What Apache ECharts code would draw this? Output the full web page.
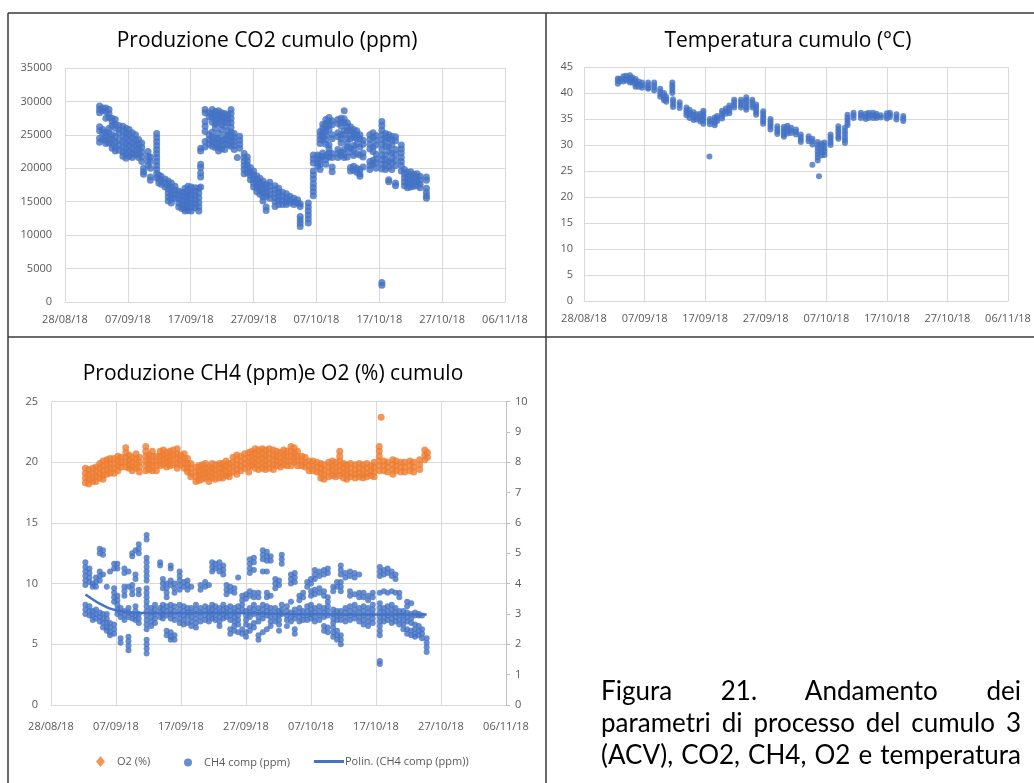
<!DOCTYPE html>
<html>
<head>
<meta charset="utf-8">
<script src="https://cdn.jsdelivr.net/npm/echarts@6/dist/echarts.min.js"></script>
<style>
  html, body { margin: 0; padding: 0; background: #ffffff; }
  #chart { position: absolute; left: 0; top: 0; width: 1034px; height: 783px; }
  #caption { position: absolute; left: 601px; top: 674px; width: 420px;
    font-family: 'Lato', 'Open Sans', sans-serif; font-size: 26px; line-height: 32px; color: #000; }
  #caption div { text-align: justify; text-align-last: justify; white-space: nowrap; }
</style>
</head>
<body>
<div id="chart"></div>
<div id="caption">
  <div>Figura 21. Andamento dei</div>
  <div>parametri di processo del cumulo 3</div>
  <div>(ACV), CO2, CH4, O2 e temperatura</div>
</div>
<script>
// Date tick labels of the shared time axis (every 10 days from 28/08/18)
const tickLabels = ['28/08/18', '07/09/18', '17/09/18', '27/09/18', '07/10/18', '17/10/18', '27/10/18', '06/11/18'];

// CO2 in the pile (ppm): [reading time 'DD/MM HH', values]
const co2Readings = [
  ['02/09 12', [29300, 28800, 28300, 26200, 25600, 24500, 23900]],
  ['03/09 00', [29000, 28600, 25800, 25200, 24300]],
  ['03/09 12', [29000, 28500, 27500, 25400, 24800, 24200, 23700]],
  ['04/09 00', [28800, 28200, 27600, 26000, 25300, 24500, 23800]],
  ['04/09 12', [27500, 27000, 26400, 25000, 24300, 23600, 23000]],
  ['05/09 00', [27300, 26600, 26000, 24800, 24000, 23200, 22600]],
  ['05/09 14', [26400, 25800, 25200, 24200, 23400, 22700]],
  ['06/09 05', [26300, 25600, 24800, 24000, 23200, 22400, 21800]],
  ['06/09 17', [26000, 25300, 24600, 23800, 23000, 22200, 21500]],
  ['07/09 05', [25800, 25000, 24200, 23400, 22600, 21800]],
  ['07/09 17', [25300, 24500, 23700, 22900, 22200, 21600]],
  ['08/09 05', [25000, 24300, 23500, 22700, 22000]],
  ['08/09 17', [24300, 23600, 22900, 22200, 21600]],
  ['09/09 05', [23800, 23100, 22400, 21700, 21000]],
  ['09/09 12', [20000, 19500, 19100]],
  ['10/09 05', [22500, 21800, 21100, 20400]],
  ['10/09 14', [21700, 21000, 20000, 18700, 18200]],
  ['11/09 14', [25200, 24600, 24000, 23400, 22800, 22200, 21600, 21000, 20400, 19800, 19200, 18600]],
  ['11/09 22', [19000, 18400, 17800]],
  ['12/09 07', [18800, 18200, 17600]],
  ['12/09 22', [18400, 17800, 17200]],
  ['13/09 10', [18100, 17500, 16900, 16300, 15700, 15100]],
  ['13/09 22', [17800, 17200, 16600, 16000, 15400, 14800]],
  ['14/09 12', [17300, 16700, 16100, 15500]],
  ['15/09 02', [16600, 16000, 15400, 14800, 14200]],
  ['15/09 14', [16400, 15800, 15200, 14600, 14000]],
  ['16/09 02', [17000, 16400, 15800, 15200, 14600, 14000, 13600]],
  ['16/09 14', [17300, 16700, 16100, 15500, 14900, 14300, 13700]],
  ['17/09 02', [17200, 16600, 16000, 15400, 14800, 14200, 13600]],
  ['17/09 17', [17100, 16500, 15900, 15300, 14700, 14100]],
  ['18/09 07', [17000, 16300, 15600, 14900, 14200, 13600]],
  ['18/09 14', [23000, 22600, 20600, 20100, 19300, 18700, 17200]],
  ['19/09 07', [28800, 28300, 27000, 26300, 25500, 24000, 23200]],
  ['19/09 22', [28300, 27700, 25000, 24300, 23600]],
  ['20/09 10', [28800, 28200, 27600, 26900, 25400, 24700, 24000, 23300]],
  ['20/09 22', [28500, 27900, 27200, 26600, 26000, 24500, 23800, 23100]],
  ['21/09 10', [28600, 28000, 27400, 26800, 25200, 24500, 23800, 23100, 22600]],
  ['21/09 22', [28300, 27700, 27100, 26500, 25800, 24200, 23500, 22900]],
  ['22/09 10', [28200, 27600, 27000, 26300, 25000, 24300, 23600, 22800]],
  ['22/09 22', [28000, 27400, 26800, 25600, 24900, 24200, 23500]],
  ['23/09 10', [28800, 28200, 27500, 26800, 26100, 25400, 24700, 24000, 23300]],
  ['23/09 22', [25200, 24600, 24000, 23400, 22800]],
  ['24/09 10', [21600]],
  ['24/09 19', [24800, 24200, 23600, 23000]],
  ['25/09 12', [22200, 21600, 21000, 20400, 19800, 19200]],
  ['26/09 00', [21700, 21100, 20500, 19900, 19300]],
  ['26/09 12', [20100, 19500, 18900, 18300]],
  ['27/09 00', [19600, 19000, 18400, 17800, 17200]],
  ['27/09 12', [18900, 18300, 17700, 17100, 16500]],
  ['28/09 00', [18500, 17900, 17300, 16700, 16100]],
  ['28/09 12', [18100, 17500, 16900, 16300, 15700, 15100]],
  ['29/09 00', [17600, 17000, 16400, 15800, 14200, 13700]],
  ['29/09 14', [17900, 17300, 16700, 16100, 15500]],
  ['30/09 10', [17400, 16800, 16200, 15600, 15000, 14300]],
  ['01/10 00', [17000, 16400, 15800, 15200, 14600]],
  ['01/10 14', [16400, 15800, 15200, 14600]],
  ['02/10 05', [16200, 15600, 15000, 14600]],
  ['02/10 19', [15800, 15300, 14800]],
  ['03/10 10', [15500, 15000, 14600]],
  ['04/10 00', [15300, 14800]],
  ['04/10 10', [14700, 14300, 12800, 12300, 11800, 11300]],
  ['05/10 17', [14800, 14200, 13600, 13000, 12400, 11800]],
  ['06/10 12', [22000, 21400, 20800, 19600, 19000, 18400, 17700, 17100, 16500, 15900]],
  ['07/10 05', [22000, 21400, 20800, 20300]],
  ['07/10 14', [25500, 24900, 24300, 23700, 21800, 21200, 20600, 19800]],
  ['08/10 00', [26600, 26000, 25400, 24800, 24200, 22300, 21700]],
  ['08/10 12', [27300, 26700, 26100, 25500, 24900, 24300, 23600, 21900, 21300, 20600]],
  ['09/10 00', [27600, 27000, 26400, 25800, 23500, 22900, 22300, 21700]],
  ['09/10 12', [27100, 26500, 25000, 24400, 22200, 21600, 20200, 19500]],
  ['10/10 10', [27300, 26700, 25300, 24700, 22800, 22200, 21600]],
  ['10/10 22', [27500, 26900, 26300, 25000, 24400, 23800, 22400, 21900]],
  ['11/10 10', [28600, 27400, 26800, 25600, 25000, 22800, 22200, 21600]],
  ['11/10 22', [26800, 26200, 25600, 24400, 23800, 23200, 21700]],
  ['12/10 10', [26200, 25600, 25000, 24400, 23000, 22400, 20100, 19600]],
  ['12/10 22', [25800, 25200, 24600, 23400, 22800, 21900, 20300, 19700]],
  ['13/10 10', [25600, 25000, 24400, 23600, 22200, 20000, 19400]],
  ['13/10 22', [25000, 24400, 23200, 22000, 19800, 19200, 18800]],
  ['14/10 10', [24200, 23600, 22300, 21700, 20200]],
  ['15/10 12', [25000, 24300, 23600, 22900, 21000, 20400, 19800]],
  ['16/10 00', [25300, 24600, 23200, 22500, 21200, 20600]],
  ['16/10 12', [24900, 24200, 23500, 22100, 21400, 20800, 20000]],
  ['17/10 10', [27000, 26400, 25700, 25000, 24300, 23600, 22800, 22000, 21300, 20600, 19900, 2900, 2500]],
  ['18/10 00', [25200, 24600, 24000, 23300, 22000, 21300, 20600, 19800]],
  ['18/10 12', [25000, 24400, 23200, 22500, 21000, 20200, 18300, 18000]],
  ['19/10 00', [24800, 24200, 23500, 22300, 21500, 20800, 19800]],
  ['19/10 14', [24700, 24100, 22800, 22100, 21200, 20400, 17800, 17400]],
  ['20/10 12', [23500, 22900, 22300, 21600, 21000, 20400, 19600]],
  ['21/10 00', [19800, 19200, 18600, 18000, 17400]],
  ['21/10 12', [19400, 18800, 18200, 17600, 17100]],
  ['22/10 00', [19500, 18900, 18300, 17700, 17200]],
  ['22/10 12', [19100, 18500, 17900, 17300]],
  ['23/10 00', [19200, 18600, 18000, 17400]],
  ['23/10 12', [18800, 18200, 17600, 17100]],
  ['24/10 12', [18700, 18200, 17000, 16400, 15900, 15500]]
];

// Pile temperature (°C)
const tempReadings = [
  ['02/09 14', [42.8, 42.3, 41.8]],
  ['02/09 22', [42.7, 42.2]],
  ['03/09 12', [43.2, 42.7, 42.2]],
  ['04/09 00', [43.3, 42.8, 42.4]],
  ['04/09 14', [43.4, 42.9, 42.4, 42.0]],
  ['05/09 00', [43.0, 42.5, 42.0]],
  ['05/09 12', [42.7, 42.2, 41.7, 41.2]],
  ['06/09 00', [42.2, 41.7, 41.2]],
  ['06/09 14', [42.0, 41.5, 41.0]],
  ['07/09 14', [42.0, 41.5, 41.0, 40.8]],
  ['08/09 14', [42.0, 41.5, 41.0, 40.5]],
  ['09/09 14', [40.8, 40.3, 39.8, 39.3]],
  ['10/09 05', [40.0, 39.5, 39.0, 38.6]],
  ['10/09 14', [39.3, 38.8, 38.3]],
  ['11/09 14', [42.0, 41.5, 41.0, 40.5, 40.0]],
  ['11/09 17', [38.8, 38.3, 37.8, 37.3]],
  ['12/09 19', [38.2, 37.7, 37.1]],
  ['13/09 22', [37.2, 36.7, 36.2, 35.7]],
  ['14/09 10', [36.8, 36.3, 35.8, 35.2]],
  ['15/09 02', [36.3, 35.8, 35.3, 34.8]],
  ['15/09 14', [35.9, 35.4, 34.9]],
  ['16/09 05', [36.0, 35.5, 35.0, 34.5]],
  ['16/09 17', [36.6, 36.1, 35.6, 35.1, 34.6, 34.1]],
  ['17/09 17', [27.8]],
  ['17/09 19', [35.0, 34.5, 34.0]],
  ['18/09 14', [35.3, 34.8, 34.3, 33.8]],
  ['19/09 00', [35.6, 35.1, 34.6]],
  ['19/09 19', [36.6, 36.1, 35.6, 35.1]],
  ['20/09 10', [37.0, 36.5, 36.0]],
  ['21/09 00', [37.6, 37.1, 36.6, 36.1]],
  ['21/09 19', [38.7, 38.2, 37.7, 37.2]],
  ['22/09 22', [38.7, 38.2, 37.7, 37.2]],
  ['23/09 19', [39.2, 38.7, 38.2, 37.7, 37.2, 36.8]],
  ['24/09 19', [38.7, 38.2, 37.7, 37.2]],
  ['25/09 10', [37.8, 37.3, 36.8, 36.3, 35.8]],
  ['26/09 14', [36.5, 36.0, 35.5, 35.0, 34.5, 34.1]],
  ['27/09 19', [35.0, 34.5, 34.0, 33.5, 33.0]],
  ['28/09 22', [33.6, 33.1, 32.6, 32.1]],
  ['30/09 00', [33.5, 33.0, 32.5, 32.0, 31.6]],
  ['30/09 14', [33.7, 33.2, 32.7, 32.2]],
  ['01/10 05', [33.3, 32.8, 32.3]],
  ['02/10 00', [33.0, 32.5, 32.0]],
  ['02/10 19', [32.0, 31.5, 31.0, 30.6]],
  ['04/10 02', [31.7, 31.2, 30.7]],
  ['04/10 17', [31.2, 30.7, 30.1, 26.2]],
  ['05/10 14', [30.6, 30.0, 29.4, 28.8, 28.2, 27.6, 27.0]],
  ['05/10 19', [24.0]],
  ['06/10 05', [30.3, 29.8, 29.2, 28.6, 28.0]],
  ['06/10 17', [30.5, 29.9, 29.3, 28.7, 28.1]],
  ['07/10 17', [32.0, 31.5, 31.0, 30.5, 30.0]],
  ['09/10 00', [33.6, 33.1, 32.6, 32.1, 31.6, 31.2]],
  ['10/10 02', [33.3, 32.7, 32.1, 31.5, 30.9, 30.4]],
  ['10/10 12', [35.8, 35.3, 34.8, 34.3, 33.8]],
  ['11/10 12', [36.2, 35.7, 35.2]],
  ['12/10 17', [36.2, 35.7, 35.2]],
  ['13/10 12', [36.0, 35.5, 35.0]],
  ['14/10 00', [36.2, 35.7, 35.2]],
  ['14/10 17', [36.2, 35.7, 35.2]],
  ['15/10 07', [36.0, 35.6, 35.2]],
  ['16/10 00', [35.7, 35.3]],
  ['17/10 00', [36.1, 35.6, 35.1]],
  ['17/10 12', [36.2, 35.8, 35.4]],
  ['18/10 14', [35.9, 35.4, 34.9]],
  ['19/10 17', [35.6, 35.1, 34.6]]
];

// Oxygen (%), left axis
const o2Readings = [
  ['02/09 07', [19.5, 19.1, 18.7, 18.3]],
  ['02/09 19', [19.4, 19.0, 18.6, 18.2]],
  ['03/09 10', [19.5, 19.1, 18.7, 18.4]],
  ['03/09 22', [19.6, 19.2, 18.8, 18.4]],
  ['04/09 12', [19.9, 19.5, 19.1, 18.7]],
  ['05/09 00', [20.1, 19.7, 19.3, 18.9, 18.6]],
  ['05/09 14', [20.2, 19.8, 19.4, 19.0]],
  ['06/09 02', [20.3, 19.9, 19.5, 19.1]],
  ['06/09 17', [20.3, 19.9, 19.5, 19.1]],
  ['07/09 07', [20.5, 20.1, 19.7, 19.3]],
  ['07/09 19', [20.4, 20.0, 19.6]],
  ['08/09 12', [21.2, 20.8, 20.4, 20.0, 19.6]],
  ['09/09 00', [20.6, 20.2, 19.8, 19.5]],
  ['09/09 12', [20.4, 20.0, 19.6, 19.3]],
  ['10/09 02', [20.7, 20.3, 19.9, 19.5]],
  ['10/09 14', [20.4, 20.0, 19.6, 19.2]],
  ['11/09 14', [21.3, 20.9, 20.5, 20.1, 19.7, 19.3]],
  ['12/09 02', [20.6, 20.2, 19.8, 19.4]],
  ['12/09 14', [20.9, 20.5, 20.1, 19.7, 19.3]],
  ['13/09 05', [20.5, 20.1, 19.7, 19.3]],
  ['13/09 19', [20.9, 20.5, 20.1, 19.7]],
  ['14/09 07', [21.0, 20.6, 20.2, 19.8]],
  ['14/09 19', [20.8, 20.4, 20.0, 19.6]],
  ['15/09 07', [20.9, 20.5, 20.1, 19.7]],
  ['15/09 19', [21.0, 20.6, 20.2, 19.8]],
  ['16/09 10', [21.1, 20.7, 20.3, 19.9, 19.5]],
  ['16/09 22', [20.6, 20.2, 19.8]],
  ['17/09 12', [20.7, 20.3, 19.9, 19.5]],
  ['18/09 00', [20.3, 19.9, 19.5, 19.2]],
  ['18/09 12', [19.9, 19.5, 19.1, 18.8]],
  ['19/09 07', [19.6, 19.2, 18.8, 18.4]],
  ['19/09 19', [19.7, 19.3, 18.9, 18.5]],
  ['20/09 07', [19.8, 19.4, 19.0, 18.6]],
  ['20/09 19', [19.9, 19.5, 19.1, 18.7]],
  ['21/09 07', [19.6, 19.2, 18.8, 18.4]],
  ['21/09 19', [19.9, 19.5, 19.1, 18.7]],
  ['22/09 07', [19.8, 19.4, 19.0, 18.6]],
  ['22/09 22', [19.9, 19.5, 19.1, 18.7]],
  ['23/09 10', [19.9, 19.5, 19.1, 18.7]],
  ['23/09 22', [20.1, 19.7, 19.3, 18.9]],
  ['24/09 10', [19.9, 19.5, 19.1, 18.8]],
  ['25/09 00', [20.4, 20.0, 19.6, 19.2]],
  ['25/09 14', [20.6, 20.2, 19.8, 19.4, 19.0]],
  ['26/09 05', [20.5, 20.1, 19.7, 19.3]],
  ['26/09 19', [20.7, 20.3, 19.9, 19.5]],
  ['27/09 10', [20.8, 20.4, 20.0, 19.6, 19.2]],
  ['27/09 22', [20.9, 20.5, 20.1, 19.7]],
  ['28/09 10', [21.1, 20.7, 20.3, 19.9, 19.5]],
  ['28/09 22', [21.0, 20.6, 20.2, 19.8, 19.4]],
  ['29/09 12', [21.1, 20.7, 20.3, 19.9, 19.5]],
  ['30/09 00', [21.0, 20.6, 20.2, 19.8, 19.4]],
  ['30/09 14', [21.1, 20.7, 20.3, 19.9, 19.5]],
  ['01/10 05', [21.0, 20.6, 20.2, 19.8, 19.4]],
  ['01/10 17', [20.9, 20.5, 20.1, 19.7]],
  ['02/10 07', [20.8, 20.4, 20.0, 19.6]],
  ['02/10 19', [21.0, 20.6, 20.2, 19.8]],
  ['03/10 07', [20.9, 20.5, 20.1, 19.7]],
  ['03/10 22', [21.3, 20.9, 20.5, 20.1, 19.7]],
  ['04/10 10', [21.2, 20.8, 20.4, 20.0]],
  ['04/10 22', [20.9, 20.5, 20.1, 19.7]],
  ['05/10 14', [20.5, 20.1, 19.7]],
  ['06/10 02', [20.4, 20.0, 19.6]],
  ['06/10 17', [20.1, 19.7, 19.3]],
  ['07/10 07', [20.1, 19.7, 19.3]],
  ['07/10 22', [20.0, 19.6, 19.2]],
  ['08/10 12', [19.9, 19.5, 19.1, 18.7]],
  ['09/10 00', [19.8, 19.4, 19.0, 18.6]],
  ['09/10 17', [20.0, 19.6, 19.2, 18.8]],
  ['10/10 07', [20.1, 19.7, 19.3, 18.9]],
  ['10/10 19', [20.0, 19.6, 19.2, 18.8]],
  ['11/10 10', [20.9, 20.5, 20.1, 19.7, 19.3, 18.9]],
  ['12/10 00', [19.9, 19.5, 19.1, 18.7]],
  ['12/10 12', [19.8, 19.4, 19.0, 18.6]],
  ['13/10 02', [19.9, 19.5, 19.1, 18.8]],
  ['13/10 19', [19.8, 19.4, 19.0, 18.7]],
  ['14/10 10', [19.9, 19.5, 19.1, 18.8]],
  ['15/10 00', [19.8, 19.4, 19.0, 18.7]],
  ['15/10 14', [19.9, 19.5, 19.1, 18.8]],
  ['16/10 05', [19.7, 19.3, 18.9]],
  ['16/10 17', [20.0, 19.6, 19.2, 18.8]],
  ['17/10 12', [21.3, 20.9, 20.5, 20.1, 19.7, 19.3]],
  ['17/10 19', [23.7]],
  ['18/10 05', [20.1, 19.7, 19.3]],
  ['18/10 19', [20.0, 19.6, 19.2]],
  ['19/10 14', [20.2, 19.8, 19.4, 19.0]],
  ['20/10 02', [20.1, 19.7, 19.3]],
  ['20/10 19', [20.0, 19.6, 19.2]],
  ['21/10 10', [20.0, 19.6, 19.2]],
  ['22/10 05', [20.1, 19.7, 19.3]],
  ['22/10 19', [20.0, 19.6, 19.2]],
  ['23/10 17', [20.2, 19.8, 19.4]],
  ['24/10 12', [21.0, 20.6, 20.2]],
  ['24/10 22', [20.8, 20.4]]
];

// Methane (ppm), right axis
const ch4Readings = [
  ['02/09 07', [4.7, 4.55, 4.4, 4.25, 4.1, 3.95, 3.3, 3.15, 3.0]],
  ['02/09 22', [4.5, 4.35, 4.2, 4.05, 3.25, 3.1, 2.95]],
  ['03/09 10', [4.0, 3.9, 3.1, 2.95, 2.8]],
  ['03/09 22', [4.2, 4.05, 3.9, 3.15, 3.0, 2.85]],
  ['04/09 12', [5.15, 5.0, 4.4, 4.25, 4.1, 3.05, 2.9, 2.75]],
  ['05/09 00', [5.1, 4.95, 4.3, 3.0, 2.85, 2.7, 2.55]],
  ['05/09 14', [3.9, 3.0, 2.85, 2.7, 2.55, 2.45]],
  ['06/09 02', [4.4, 2.7, 2.55, 2.4, 2.3]],
  ['06/09 17', [4.65, 4.5, 3.85, 3.7, 3.55, 3.4, 2.65, 2.5, 2.35]],
  ['07/09 05', [4.65, 4.5, 3.6, 3.45, 3.3, 3.15, 3.0]],
  ['07/09 17', [3.2, 3.05, 2.9, 2.2, 2.05]],
  ['08/09 07', [4.5, 4.35, 3.9, 3.75, 3.6, 3.1, 2.95, 2.8]],
  ['08/09 22', [4.4, 3.9, 3.2, 3.05, 2.9, 2.25, 2.1, 1.95, 1.8]],
  ['09/09 12', [5.0, 4.9, 3.95, 3.8, 3.65, 3.0, 2.85]],
  ['10/09 00', [5.1, 4.3, 4.15, 3.25, 3.1, 2.95, 2.8]],
  ['10/09 12', [5.3, 5.15, 5.0, 3.8, 3.65, 3.0, 2.85, 2.7]],
  ['11/09 17', [5.6, 5.45, 4.85, 4.7, 4.55, 4.4, 4.25, 4.1, 3.85, 3.7, 3.55, 3.4, 3.25, 3.1, 2.95, 2.8, 2.65, 2.5, 2.15, 2.0, 1.85, 1.7]],
  ['12/09 10', [3.2, 3.05, 2.9, 2.75, 2.6]],
  ['13/09 00', [3.3, 3.15, 3.0, 2.85, 2.7]],
  ['13/09 19', [4.7, 4.6, 3.2, 3.05, 2.9]],
  ['14/09 05', [4.15, 4.0, 3.85, 3.3, 3.15, 3.0, 2.85]],
  ['14/09 19', [4.0, 3.85, 3.7, 3.55, 3.25, 3.1, 2.95, 2.45, 2.3]],
  ['15/09 10', [4.6, 4.5, 4.1, 3.95, 3.3, 3.15, 3.0, 2.85, 2.4, 2.25, 2.15]],
  ['16/09 00', [4.0, 3.85, 3.7, 3.25, 3.1, 2.95, 2.8, 2.3, 2.15]],
  ['16/09 19', [4.4, 4.25, 4.1, 3.95, 3.8, 3.3, 3.15, 3.0, 2.85, 2.7]],
  ['17/09 10', [4.05, 3.9, 3.25, 3.1, 2.95, 2.8, 2.65]],
  ['18/09 00', [4.1, 3.95, 3.8, 3.2, 3.05, 2.9, 2.7]],
  ['18/09 14', [3.9, 3.2, 3.05, 2.9, 2.75, 2.6]],
  ['19/09 07', [3.3, 3.15, 3.0, 2.85, 2.7, 2.55]],
  ['20/09 00', [3.95, 3.8, 3.2, 3.05, 2.9, 2.75]],
  ['20/09 17', [4.05, 3.9, 3.25, 3.1, 2.95, 2.8]],
  ['21/09 07', [3.95, 3.2, 3.05, 2.9, 2.75]],
  ['21/09 19', [4.7, 4.55, 4.4, 3.3, 3.15, 3.0, 2.85]],
  ['22/09 07', [4.65, 4.5, 3.25, 3.1, 2.95, 2.8]],
  ['22/09 22', [4.7, 4.55, 4.4, 3.2, 3.05, 2.9, 2.75, 2.6]],
  ['23/09 12', [4.6, 4.45, 4.3, 3.3, 3.15, 3.0, 2.85]],
  ['24/09 00', [3.95, 3.8, 3.65, 3.2, 3.05, 2.9]],
  ['24/09 14', [3.9, 3.75, 3.25, 3.1, 2.95, 2.8, 2.5, 2.35]],
  ['25/09 05', [3.85, 3.7, 3.2, 3.05, 2.9, 2.75, 2.6, 2.45]],
  ['25/09 19', [4.2, 3.25, 3.1, 2.95, 2.8, 2.65, 2.4]],
  ['26/09 10', [3.6, 3.45, 3.3, 3.15, 2.5, 2.35]],
  ['27/09 00', [3.65, 3.5, 3.1, 2.95, 2.8, 2.65, 2.4, 2.25]],
  ['27/09 14', [4.8, 4.65, 4.5, 4.35, 3.75, 3.6, 3.2, 3.05, 2.9, 2.6, 2.45]],
  ['28/09 05', [4.85, 4.7, 4.45, 3.7, 3.55, 3.3, 3.15, 3.0, 2.7, 2.55]],
  ['28/09 22', [3.7, 3.55, 3.2, 3.05, 2.9, 2.75, 2.3, 2.15]],
  ['29/09 14', [5.1, 4.95, 4.8, 4.4, 3.3, 3.15, 3.0, 2.85, 2.4]],
  ['30/09 05', [5.05, 4.9, 4.75, 4.4, 3.7, 3.55, 3.25, 3.1, 2.95, 2.5]],
  ['30/09 19', [4.9, 4.75, 3.6, 3.2, 3.05, 2.9, 2.75, 2.6]],
  ['01/10 12', [4.15, 4.0, 3.85, 3.2, 3.05, 2.9, 2.75]],
  ['02/10 02', [4.1, 3.95, 3.1, 2.95, 2.8, 2.65, 2.45]],
  ['02/10 12', [4.95, 4.8, 4.65, 3.3, 3.15, 3.0]],
  ['03/10 07', [3.25, 3.1, 2.95, 2.8, 2.6]],
  ['03/10 22', [4.3, 4.15, 4.0, 3.4, 3.05, 2.9, 2.75]],
  ['04/10 12', [4.35, 4.2, 4.05, 3.15, 3.0, 2.85, 2.5, 2.35]],
  ['05/10 05', [3.6, 3.45, 3.2, 3.05, 2.9, 2.75]],
  ['05/10 19', [3.7, 3.55, 3.1, 2.95, 2.8]],
  ['06/10 10', [4.05, 3.9, 3.25, 3.1, 2.95, 2.8]],
  ['07/10 00', [4.15, 4.0, 3.75, 3.6, 3.3, 3.15, 3.0, 2.85]],
  ['07/10 14', [4.45, 4.3, 4.15, 3.8, 3.65, 3.2, 3.05, 2.9, 2.75]],
  ['08/10 07', [4.4, 4.25, 3.85, 3.7, 3.25, 3.1, 2.95, 2.8]],
  ['09/10 00', [4.45, 4.3, 3.75, 3.6, 3.2, 3.05, 2.9, 2.6, 2.45]],
  ['09/10 14', [4.5, 4.35, 3.55, 3.4, 3.25, 3.1, 2.95, 2.55, 2.4]],
  ['10/10 10', [3.9, 3.75, 3.15, 3.0, 2.85, 2.7, 2.55, 2.4, 2.25]],
  ['11/10 00', [4.05, 3.9, 3.1, 2.95, 2.8, 2.45, 2.3, 2.15]],
  ['11/10 14', [4.6, 4.45, 4.3, 4.05, 3.9, 3.75, 3.1, 2.95, 2.8, 2.3, 2.15, 2.0]],
  ['12/10 07', [4.35, 4.2, 3.2, 3.05, 2.9, 2.75]],
  ['13/10 00', [4.4, 4.25, 3.75, 3.6, 3.25, 3.1, 2.95, 2.8]],
  ['13/10 17', [4.35, 4.2, 3.65, 3.3, 3.15, 3.0, 2.85]],
  ['14/10 10', [4.3, 3.7, 3.55, 3.2, 3.05, 2.9, 2.75]],
  ['15/10 02', [3.7, 3.55, 3.25, 3.1, 2.95, 2.8, 2.65]],
  ['15/10 19', [3.6, 3.45, 3.2, 3.05, 2.9, 2.75, 2.6]],
  ['16/10 12', [3.7, 3.55, 3.3, 3.15, 3.0, 2.85, 2.7]],
  ['17/10 14', [4.55, 4.4, 4.25, 3.7, 3.35, 3.2, 3.05, 2.9, 2.75, 2.6, 2.45, 2.3, 1.45, 1.35]],
  ['18/10 05', [4.45, 4.3, 3.75, 3.2, 3.05, 2.9, 2.75]],
  ['18/10 19', [4.5, 4.35, 3.7, 3.25, 3.1, 2.95, 2.8]],
  ['19/10 10', [4.4, 4.25, 3.75, 3.3, 3.15, 3.0, 2.85, 2.7]],
  ['20/10 00', [4.3, 4.15, 3.7, 3.2, 3.05, 2.9, 2.75]],
  ['20/10 14', [3.7, 3.55, 3.1, 2.95, 2.8, 2.65]],
  ['21/10 05', [3.1, 2.95, 2.8, 2.65, 2.5]],
  ['21/10 19', [3.4, 3.25, 3.05, 2.9, 2.75, 2.5, 2.35]],
  ['22/10 10', [3.35, 3.0, 2.85, 2.7, 2.45, 2.3]],
  ['23/10 00', [3.05, 2.95, 2.65, 2.5, 2.35, 2.25]],
  ['23/10 14', [3.0, 2.95, 2.6, 2.45, 2.3]],
  ['24/10 02', [2.95, 2.5, 2.35, 2.2]],
  ['24/10 19', [2.2, 2.05, 1.9, 1.75]]
];

// Polynomial trend of CH4 (ppm)
const ch4Trend = [
  ['02/09 07', 3.64], ['03/09 12', 3.47], ['04/09 12', 3.34], ['05/09 12', 3.23],
  ['06/09 12', 3.15], ['07/09 12', 3.10], ['09/09 00', 3.05], ['11/09 00', 3.03],
  ['14/09 00', 3.02], ['19/09 00', 3.03], ['24/09 00', 3.03], ['29/09 00', 3.02],
  ['04/10 00', 3.00], ['09/10 00', 2.99], ['14/10 00', 2.98], ['19/10 00', 2.98],
  ['24/10 19', 2.98]
];

// Days elapsed since 28/08/2018 for a 'DD/MM HH' reading time
function dayOf(s) {
  const [dm, hh] = s.split(' ');
  const [d, m] = dm.split('/').map(Number);
  return (Date.UTC(2018, m - 1, d, Number(hh)) - Date.UTC(2018, 7, 28)) / 86400000;
}
function points(readings) {
  return readings.flatMap(([t, vals]) => vals.map(v => [dayOf(t), v]));
}

const BLUE = '#4472C4';
const ORANGE = '#ED7D31';
const LABEL = '#595959';
const GRID = '#d9d9d9';
const FONT = 'Open Sans';

function timeAxis(gridIndex, margin) {
  return {
    type: 'value', gridIndex, min: 0, max: 70, interval: 10,
    axisLine: { show: true, lineStyle: { color: GRID, width: 1 } },
    axisTick: { show: false },
    splitLine: { show: true, lineStyle: { color: GRID, width: 1 } },
    axisLabel: { color: LABEL, fontFamily: FONT, fontSize: 11, margin,
      formatter: v => tickLabels[Math.round(v / 10)] }
  };
}
function valueAxis(gridIndex, max, interval, margin) {
  return {
    type: 'value', gridIndex, min: 0, max, interval,
    axisLine: { show: false }, axisTick: { show: false },
    splitLine: { show: true, lineStyle: { color: GRID, width: 1 } },
    axisLabel: { color: LABEL, fontFamily: FONT, fontSize: 11, margin, formatter: v => String(v) }
  };
}

const border = { stroke: '#3a3a3a', lineWidth: 1.5 };
const titleStyle = { fontFamily: FONT, fontSize: 21, fontWeight: 'normal', color: '#000' };
const legendText = { color: LABEL, fontFamily: FONT, fontSize: 11 };

const chart = echarts.init(document.getElementById('chart'), null, { renderer: 'canvas' });
chart.setOption({
  animation: false,
  backgroundColor: '#ffffff',
  title: [
    { text: 'Produzione CO2 cumulo (ppm)', left: 262, top: 26, textAlign: 'center', textStyle: titleStyle },
    { text: 'Temperatura cumulo (°C)', left: 783, top: 26, textAlign: 'center', textStyle: titleStyle },
    { text: 'Produzione CH4 (ppm)e O2 (%) cumulo', left: 268, top: 359, textAlign: 'center', textStyle: titleStyle }
  ],
  grid: [
    { left: 65, top: 68, width: 440, height: 234 },
    { left: 584, top: 67, width: 424, height: 234 },
    { left: 51, top: 401.5, width: 455, height: 303.5 }
  ],
  xAxis: [timeAxis(0, 12), timeAxis(1, 12), timeAxis(2, 16)],
  yAxis: [
    valueAxis(0, 35000, 5000, 13),
    valueAxis(1, 45, 5, 11),
    valueAxis(2, 25, 5, 13),
    {
      type: 'value', gridIndex: 2, position: 'right', min: 0, max: 10, interval: 1,
      axisLine: { show: true, lineStyle: { color: '#bfbfbf', width: 1 } },
      axisTick: { show: true, length: 4, lineStyle: { color: '#bfbfbf' } },
      splitLine: { show: false },
      axisLabel: { color: LABEL, fontFamily: FONT, fontSize: 11, margin: 9 }
    }
  ],
  legend: [
    { left: 91, top: 751, itemWidth: 9, itemHeight: 11, data: [{ name: 'O2 (%)', icon: 'diamond' }],
      textStyle: Object.assign({ padding: [0, 0, 0, 7] }, legendText) },
    { left: 179, top: 752, itemWidth: 8, itemHeight: 9, data: [{ name: 'CH4 comp (ppm)', icon: 'circle' }],
      textStyle: Object.assign({ padding: [0, 0, 0, 7] }, legendText) },
    { left: 309, top: 751, itemWidth: 30, itemHeight: 3, data: [{ name: 'Polin. (CH4 comp (ppm))', icon: 'rect' }],
      textStyle: Object.assign({ padding: [0, 0, 0, -4] }, legendText) }
  ],
  series: [
    { name: 'CO2 (ppm)', type: 'scatter', xAxisIndex: 0, yAxisIndex: 0, symbol: 'circle', symbolSize: 7,
      itemStyle: { color: BLUE }, data: points(co2Readings) },
    { name: 'Temperatura (°C)', type: 'scatter', xAxisIndex: 1, yAxisIndex: 1, symbol: 'circle', symbolSize: 6,
      itemStyle: { color: BLUE }, data: points(tempReadings) },
    { name: 'O2 (%)', type: 'scatter', xAxisIndex: 2, yAxisIndex: 2, symbol: 'circle', symbolSize: 7,
      itemStyle: { color: ORANGE }, data: points(o2Readings) },
    { name: 'CH4 comp (ppm)', type: 'scatter', xAxisIndex: 2, yAxisIndex: 3, symbol: 'circle', symbolSize: 6,
      itemStyle: { color: BLUE }, data: points(ch4Readings) },
    { name: 'Polin. (CH4 comp (ppm))', type: 'line', xAxisIndex: 2, yAxisIndex: 3, symbol: 'none', smooth: true,
      lineStyle: { color: BLUE, width: 2.5 }, itemStyle: { color: BLUE }, z: 3,
      data: ch4Trend.map(([t, v]) => [dayOf(t), v]) }
  ],
  graphic: [
    { type: 'line', shape: { x1: 8, y1: 13, x2: 1034, y2: 13 }, style: border, silent: true },
    { type: 'line', shape: { x1: 8, y1: 337, x2: 1034, y2: 337 }, style: border, silent: true },
    { type: 'line', shape: { x1: 8, y1: 13, x2: 8, y2: 783 }, style: border, silent: true },
    { type: 'line', shape: { x1: 546, y1: 13, x2: 546, y2: 783 }, style: border, silent: true }
  ]
});
</script>
</body>
</html>
